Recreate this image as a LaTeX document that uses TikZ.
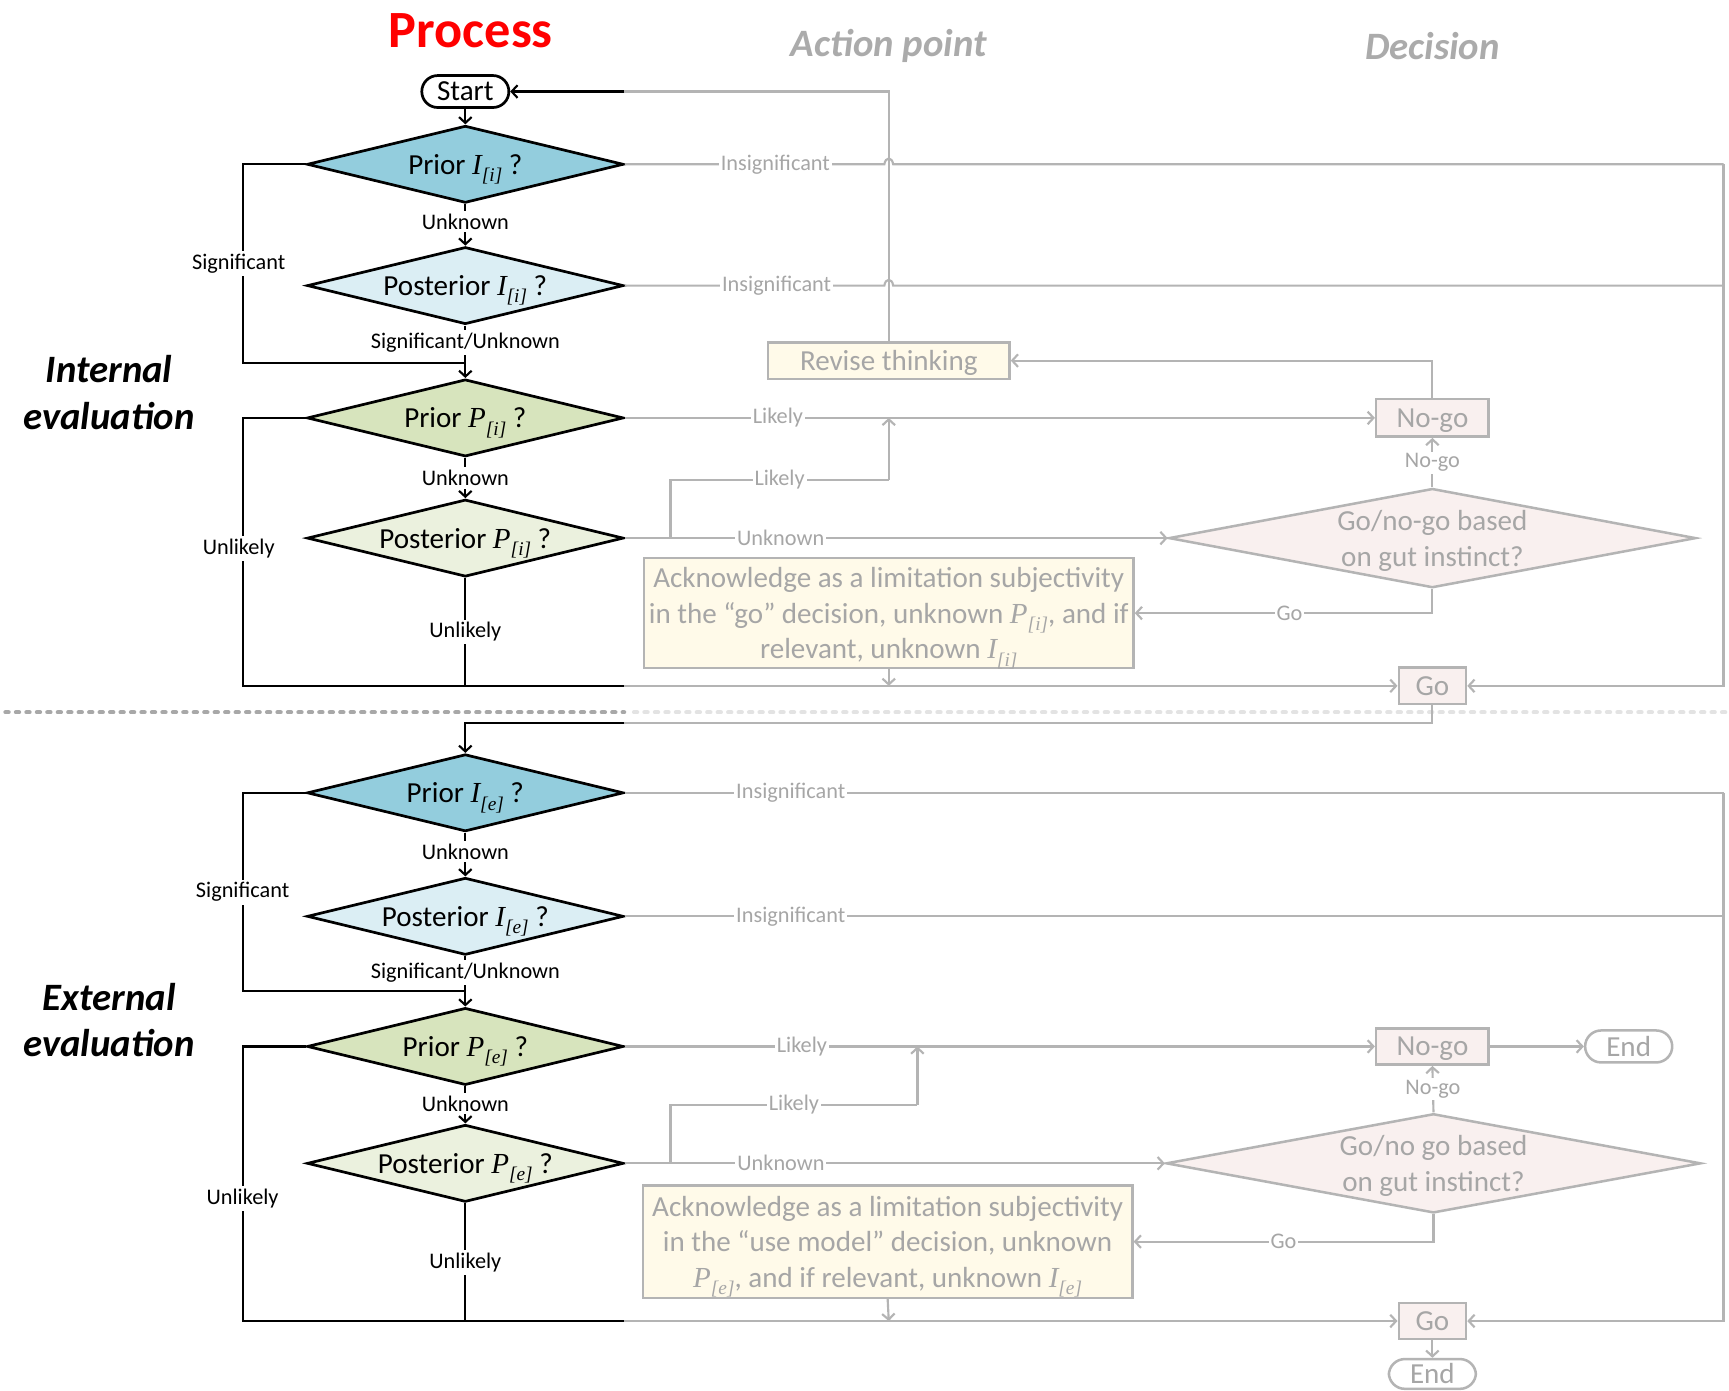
\documentclass[tikz,border=0pt]{standalone}
\usepackage{fontspec}
\setmainfont{Carlito}
\newfontfamily\serifmath{Liberation Serif}
\usetikzlibrary{shapes.geometric,arrows.meta}

\definecolor{blueA}{HTML}{93CDDD}
\definecolor{blueB}{HTML}{DBEEF4}
\definecolor{greenA}{HTML}{D7E4BD}
\definecolor{greenB}{HTML}{EBF1DE}
\definecolor{cream}{HTML}{FFFAE9}
\definecolor{blush}{HTML}{F9F0EF}
\definecolor{lineg}{HTML}{B4B4B4}
\definecolor{textg}{HTML}{A6A6A6}
\definecolor{headg}{HTML}{ABABAB}
\definecolor{sepdark}{HTML}{A8A8A8}
\definecolor{seplight}{HTML}{E3E3E3}

% italic serif symbol with an italic subscript index
\newcommand{\qv}[2]{{\serifmath\itshape #1\raisebox{-0.55ex}{\fontsize{10}{10}\selectfont #2}}}

\begin{document}
\begin{tikzpicture}[x=0.02cm,y=-0.02cm,
  every node/.style={font=\fontsize{15}{18.4}\selectfont},
  tip/.style={-{Straight Barb[length=3pt,width=6.5pt]}},
  blk/.style={draw=black,line width=1.1pt},
  gry/.style={draw=lineg,line width=1.1pt},
  qdia/.style={diamond,draw=black,line width=1.4pt,inner sep=0pt,shape aspect=4.1,
    minimum width=5.74cm,minimum height=1.4cm,text depth=0pt},
  gdia/.style={diamond,draw=lineg,line width=1.3pt,fill=blush,text=textg,inner xsep=0pt,
    inner ysep=-2pt,shape aspect=5,minimum height=1.8cm,align=center,text depth=0pt},
  gbox/.style={rectangle,draw=lineg,line width=1.3pt,text=textg,inner sep=1pt,text depth=0pt},
  blbl/.style={fill=white,inner sep=1.5pt,font=\fontsize{11.5}{13}\selectfont,text=black},
  glbl/.style={fill=white,inner sep=1pt,font=\fontsize{11.5}{13}\selectfont,text=textg},
  term/.style={rectangle,rounded corners=0.29cm,line width=1.4pt,minimum height=0.58cm,
    minimum width=1.58cm,inner sep=0pt,fill=white},
  side/.style={font=\fontsize{20}{24}\selectfont\bfseries\itshape,align=center},
  sepline/.style={line width=2.2pt,line cap=round,dash pattern=on 1.6pt off 3.8pt}
]
\fill[white] (0,0) rectangle (1568,1261);
\useasboundingbox (0,0) rectangle (1568,1261);

% column headings
\node[font=\fontsize{27}{30}\selectfont\bfseries,text=red] (hproc) at (427,28) {Process};
\node[font=\fontsize{20}{24}\selectfont\bfseries\itshape,text=headg] (hact) at (806,42) {Action point};
\node[font=\fontsize{20}{24}\selectfont\bfseries\itshape,text=headg] (hdec) at (1299,42) {Decision};
\node[side] (sint) at (99,356) {Internal\\evaluation};
\node[side] (sext) at (99,925) {External\\evaluation};

% section separator
\draw[sepline,draw=sepdark] (5,646) -- (566,646);
\draw[sepline,draw=seplight] (575,646) -- (1566,646);

% ---------------- internal evaluation ----------------
\node[term,draw=black] (start) at (422,83) {Start};
\node[qdia,fill=blueA] (d1) at (422,149) {Prior \qv{I}{[i]} ?};
\node[qdia,fill=blueB] (d2) at (422,259) {Posterior \qv{I}{[i]} ?};
\node[qdia,fill=greenA] (d3) at (422,379) {Prior \qv{P}{[i]} ?};
\node[qdia,fill=greenB] (d4) at (422,488) {Posterior \qv{P}{[i]} ?};

\node[gbox,fill=cream,minimum width=4.38cm,minimum height=0.66cm] (rev) at (806,327) {Revise thinking};
\node[gbox,fill=blush,minimum width=2.04cm,minimum height=0.68cm] (nogo1) at (1299,379) {No-go};
\node[gdia,minimum width=9.56cm] (gut1) at (1299,488) {Go/no-go based\\on gut instinct?};
\node[gbox,fill=cream,minimum width=8.88cm,minimum height=2cm,align=center] (ack1) at (806,556)
  {Acknowledge as a limitation subjectivity\\in the “go” decision, unknown \qv{P}{[i]}, and if\\relevant, unknown \qv{I}{[i]}};
\node[gbox,fill=blush,minimum width=1.22cm,minimum height=0.66cm] (go1) at (1299,622) {Go};

\coordinate (fadeS) at (566,83);
\coordinate (sigI) at (220,329);
\coordinate (joinI) at (422,329);
\coordinate (botL1) at (220,622);
\coordinate (botM1) at (422,622);
\coordinate (fade1) at (566,622);
\coordinate (rb1) at (1563,149);
\coordinate (rb2) at (1563,259);
\coordinate (h1a) at (802,149);
\coordinate (h1b) at (810,149);
\coordinate (h2a) at (802,259);
\coordinate (h2b) at (810,259);
\coordinate (br1) at (608,488);
\coordinate (bend1) at (806,435);
\coordinate (lk1) at (806,379);
\coordinate (ak1) at (806,622);
\coordinate (back1) at (566,656);

% process column
\draw[blk,tip] (start) -- (d1);
\draw[blk,tip] (d1.south) -- node[blbl,pos=0.42]{Unknown} (d2.north);
\draw[blk,tip] (d2.south) -- node[blbl,pos=0.33]{Significant/Unknown} (d3.north);
\draw[blk] (d1.west) -| node[blbl,pos=0.75,xshift=-2pt]{Significant} (sigI) -- (joinI);
\draw[blk,tip] (d3.south) -- node[blbl]{Unknown} (d4.north);
\draw[blk] (d3.west) -| node[blbl,pos=0.743,xshift=-2pt]{Unlikely} (botL1) -- (fade1);
\draw[blk] (d4.south) -- node[blbl]{Unlikely} (botM1);

% action and decision paths
\draw[gry] (rev.north) |- (fadeS);
\draw[blk,tip] (fadeS) -- (start.east);
\draw[gry] (d1.east) -- node[glbl,pos=0.58]{Insignificant} (h1a)
  .. controls (803,142) and (809,142) .. (h1b) -- (rb1);
\draw[gry] (d2.east) -- node[glbl,pos=0.585]{Insignificant} (h2a)
  .. controls (803,252) and (809,252) .. (h2b) -- (rb2);
\draw[gry,tip] (rb1) |- (go1.east);
\draw[gry,tip] (d3.east) -- node[glbl,pos=0.204]{Likely} (nogo1.west);
\draw[gry,tip] (d4.east) -- node[glbl,pos=0.287]{Unknown} (gut1.west);
\draw[gry] (br1) |- node[glbl,pos=0.75]{Likely} (bend1);
\draw[gry,tip] (bend1) -- (lk1);
\draw[gry,tip] (gut1.north) -- node[glbl]{No-go} (nogo1.south);
\draw[gry,tip] (gut1.south) |- node[glbl,pos=0.74]{Go} (ack1.east);
\draw[gry,tip] (nogo1.north) |- (rev.east);
\draw[gry,tip] (ack1.south) -- (ak1);
\draw[gry,tip] (fade1) -- (go1.west);
\draw[gry] (go1.south) |- (back1);

% ---------------- external evaluation ----------------
\node[qdia,fill=blueA] (d5) at (422,719) {Prior \qv{I}{[e]} ?};
\node[qdia,fill=blueB] (d6) at (422,831) {Posterior \qv{I}{[e]} ?};
\node[qdia,fill=greenA] (d7) at (422,949) {Prior \qv{P}{[e]} ?};
\node[qdia,fill=greenB] (d8) at (422,1055) {Posterior \qv{P}{[e]} ?};

\node[gbox,fill=blush,minimum width=2.04cm,minimum height=0.66cm] (nogo2) at (1299,949) {No-go};
\node[term,draw=lineg,text=textg,line width=1.3pt] (end1) at (1477,949) {End};
\node[gdia,minimum width=9.7cm] (gut2) at (1300,1055) {Go/no go based\\on gut instinct?};
\node[gbox,fill=cream,minimum width=8.88cm,minimum height=2.04cm,align=center] (ack2) at (805,1126)
  {Acknowledge as a limitation subjectivity\\in the “use model” decision, unknown\\\qv{P}{[e]}, and if relevant, unknown \qv{I}{[e]}};
\node[gbox,fill=blush,minimum width=1.22cm,minimum height=0.66cm] (go2) at (1299,1198) {Go};
\node[term,draw=lineg,text=textg,line width=1.3pt,minimum height=0.54cm] (end2) at (1299,1246) {End};

\coordinate (sigE) at (220,899);
\coordinate (joinE) at (422,899);
\coordinate (botL2) at (220,1198);
\coordinate (botM2) at (422,1198);
\coordinate (fade2) at (566,1198);
\coordinate (rb5) at (1563,719);
\coordinate (rb6) at (1563,831);
\coordinate (br2) at (608,1055);
\coordinate (bend2) at (832,1002);
\coordinate (lk2) at (832,949);
\coordinate (ak2) at (806,1198);

% process column
\draw[blk,tip] (back1) -| (d5.north);
\draw[blk,tip] (d5.south) -- node[blbl,pos=0.43]{Unknown} (d6.north);
\draw[blk,tip] (d6.south) -- node[blbl,pos=0.33]{Significant/Unknown} (d7.north);
\draw[blk] (d5.west) -| node[blbl,pos=0.75]{Significant} (sigE) -- (joinE);
\draw[blk,tip] (d7.south) -- node[blbl,pos=0.46]{Unknown} (d8.north);
\draw[blk] (d7.west) -| node[blbl,pos=0.777]{Unlikely} (botL2) -- (fade2);
\draw[blk] (d8.south) -- node[blbl]{Unlikely} (botM2);

% action and decision paths
\draw[gry] (d5.east) -- node[glbl,pos=0.151]{Insignificant} (rb5);
\draw[gry] (d6.east) -- node[glbl,pos=0.151]{Insignificant} (rb6);
\draw[gry,tip] (rb5) |- (go2.east);
\draw[gry,tip] (d7.east) -- node[glbl,pos=0.236]{Likely} (nogo2.west);
\draw[gry,tip] (nogo2.east) -- (end1.west);
\draw[gry,tip] (d8.east) -- node[glbl,pos=0.289]{Unknown} (gut2.west);
\draw[gry] (br2) |- node[glbl,pos=0.75]{Likely} (bend2);
\draw[gry,tip] (bend2) -- (lk2);
\draw[gry,tip] (gut2.north) -- node[glbl]{No-go} (nogo2.south);
\draw[gry,tip] (gut2.south) |- node[glbl,pos=0.75]{Go} (ack2.east);
\draw[gry,tip] (ack2.south) -- (ak2);
\draw[gry,tip] (fade2) -- (go2.west);
\draw[gry,tip] (go2.south) -- (end2.north);
\end{tikzpicture}
\end{document}
